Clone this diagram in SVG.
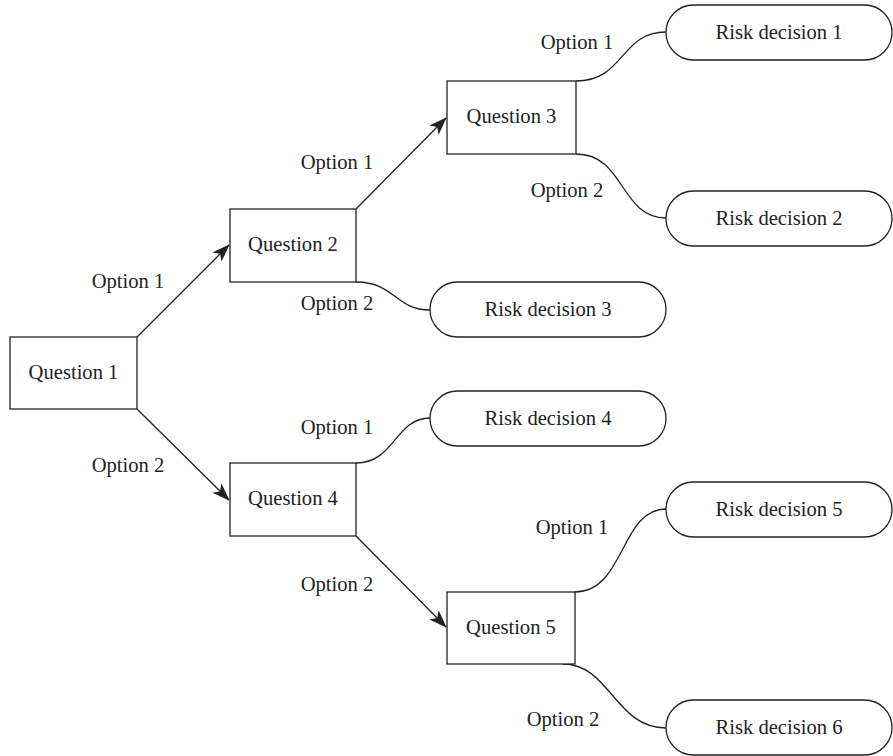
<svg xmlns="http://www.w3.org/2000/svg" width="893" height="756" viewBox="0 0 893 756">
<style>
.box{fill:#fff;stroke:#222;stroke-width:1.3}
.pill{fill:#fff;stroke:#222;stroke-width:1.3}
.t{font-family:"Liberation Serif","Times New Roman",serif;font-size:20.6px;fill:#222;text-anchor:middle}
.c{fill:none;stroke:#222;stroke-width:1.3}
</style>
<defs>
<marker id="ah" viewBox="0 0 18 13" refX="17" refY="6.5" markerWidth="18" markerHeight="13" markerUnits="userSpaceOnUse" orient="auto">
<path d="M0,0 L18,6.5 L0,13 L4.5,6.5 Z" fill="#222"/>
</marker>
</defs>
<rect width="893" height="756" fill="#fff"/>
<g id="connectors">
<path class="c" d="M137,337 L229,245" marker-end="url(#ah)"/>
<path class="c" d="M137,409 L229,500" marker-end="url(#ah)"/>
<path class="c" d="M356,209 L446,118" marker-end="url(#ah)"/>
<path class="c" d="M356,536 L446,627" marker-end="url(#ah)"/>
<path class="c" d="M356,282 C395,282 395,310 430,310"/>
<path class="c" d="M356,463 C395,463 395,418 430,418"/>
<path class="c" d="M576,81 C625,81 620,32 666,32"/>
<path class="c" d="M576,154 C625,154 620,218 666,218"/>
<path class="c" d="M575,592 C625,592 620,509 666,509"/>
<path class="c" d="M563,664 C610,664 615,728 666,728"/>
</g>
<g id="labels">
<text class="t" x="128" y="288">Option 1</text>
<text class="t" x="128" y="472">Option 2</text>
<text class="t" x="337" y="169">Option 1</text>
<text class="t" x="337" y="310">Option 2</text>
<text class="t" x="577" y="49">Option 1</text>
<text class="t" x="567" y="197">Option 2</text>
<text class="t" x="337" y="434">Option 1</text>
<text class="t" x="337" y="591">Option 2</text>
<text class="t" x="572" y="534">Option 1</text>
<text class="t" x="563" y="726">Option 2</text>
</g>
<g id="q1"><rect class="box" x="10" y="337" width="127" height="72"/><text class="t" x="73.5" y="379">Question 1</text></g>
<g id="q2"><rect class="box" x="230" y="209" width="126" height="73"/><text class="t" x="293" y="251">Question 2</text></g>
<g id="q3"><rect class="box" x="447" y="81" width="129" height="73"/><text class="t" x="511.5" y="123">Question 3</text></g>
<g id="q4"><rect class="box" x="230" y="463" width="126" height="73"/><text class="t" x="293" y="505">Question 4</text></g>
<g id="q5"><rect class="box" x="447" y="592" width="128" height="72"/><text class="t" x="511" y="634">Question 5</text></g>
<g id="rd1"><rect class="pill" x="666" y="5" width="226" height="55" rx="27.5"/><text class="t" x="779" y="39">Risk decision 1</text></g>
<g id="rd2"><rect class="pill" x="666" y="191" width="226" height="55" rx="27.5"/><text class="t" x="779" y="225">Risk decision 2</text></g>
<g id="rd3"><rect class="pill" x="430" y="282" width="236" height="55" rx="27.5"/><text class="t" x="548" y="316">Risk decision 3</text></g>
<g id="rd4"><rect class="pill" x="430" y="391" width="236" height="55" rx="27.5"/><text class="t" x="548" y="425">Risk decision 4</text></g>
<g id="rd5"><rect class="pill" x="666" y="482" width="226" height="55" rx="27.5"/><text class="t" x="779" y="516">Risk decision 5</text></g>
<g id="rd6"><rect class="pill" x="666" y="700" width="226" height="55" rx="27.5"/><text class="t" x="779" y="734">Risk decision 6</text></g>
</svg>
